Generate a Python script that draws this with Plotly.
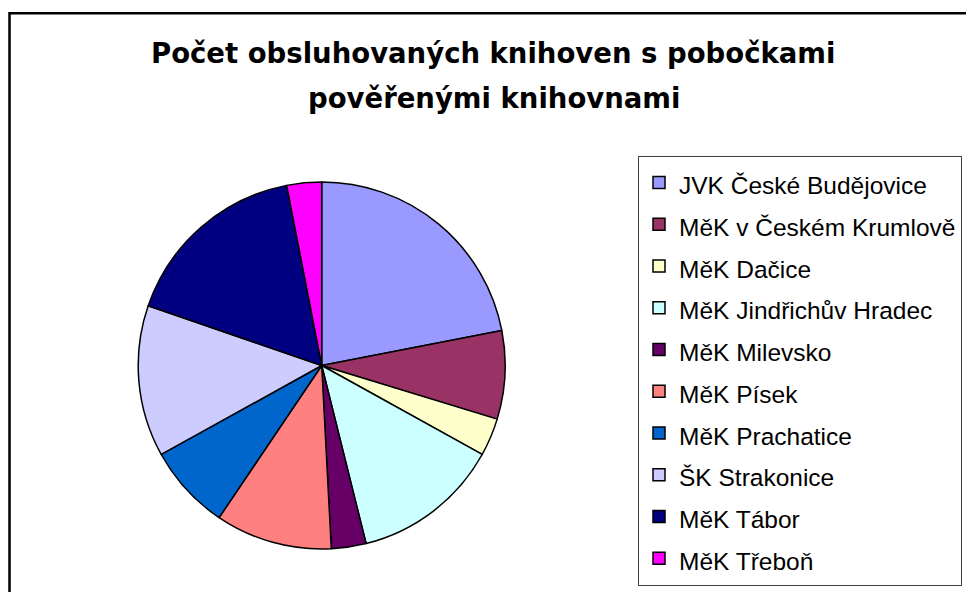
import plotly.graph_objects as go

# Data
labels = [
    "JVK České Budějovice",
    "MěK v Českém Krumlově",
    "MěK Dačice",
    "MěK Jindřichův Hradec",
    "MěK Milevsko",
    "MěK Písek",
    "MěK Prachatice",
    "ŠK Strakonice",
    "MěK Tábor",
    "MěK Třeboň",
]
values = [79, 28, 12, 47, 11, 37, 27, 48, 60, 11]
colors = ["#9999FF", "#993366", "#FFFFCC", "#CCFFFF", "#660066",
          "#FF8080", "#0066CC", "#CCCCFF", "#000080", "#FF00FF"]
title_lines = ["Počet obsluhovaných knihoven s pobočkami",
               "pověřenými knihovnami"]

W, H = 966, 592
legend_labels = ['<span style="font-size:24.5px">%s</span>' % l for l in labels]

fig = go.Figure(go.Pie(
    labels=legend_labels,
    values=values,
    sort=False,
    direction="clockwise",
    rotation=0,
    textinfo="none",
    hoverinfo="skip",
    marker=dict(colors=colors, line=dict(color="black", width=1.5)),
    domain=dict(x=[(321.7 - 183.5) / W, (321.7 + 183.5) / W],
                y=[(592 - 365.5 - 183.5) / H, (592 - 365.5 + 183.5) / H]),
))

fig.update_layout(
    width=W, height=H,
    margin=dict(l=0, r=0, t=0, b=0),
    paper_bgcolor="white",
    plot_bgcolor="white",
    showlegend=True,
    legend=dict(
        x=638 / W, xanchor="left",
        y=1 - 155.7 / H, yanchor="top",
        bordercolor="#404040", borderwidth=1,
        bgcolor="white",
        entrywidth=340, entrywidthmode="pixels",
        font=dict(family="Liberation Sans, Arial, sans-serif", size=29.8, color="black"),
    ),
    annotations=[
        dict(text="<b>%s</b>" % title_lines[0], x=493 / W, y=1 - 52.5 / H,
             xref="paper", yref="paper", xanchor="center", yanchor="middle",
             showarrow=False,
             font=dict(family="DejaVu Sans", size=27.5, color="black")),
        dict(text="<b>%s</b>" % title_lines[1], x=493.5 / W, y=1 - 97.5 / H,
             xref="paper", yref="paper", xanchor="center", yanchor="middle",
             showarrow=False,
             font=dict(family="DejaVu Sans", size=27.5, color="black")),
    ],
    shapes=[
        dict(type="rect", xref="paper", yref="paper",
             x0=9.5 / W, x1=1.02, y0=-0.02, y1=1 - 13.3 / H,
             line=dict(color="black", width=2.5), fillcolor="rgba(0,0,0,0)",
             layer="below"),
    ],
)

fig.write_html("out.html",
               config={"displayModeBar": False},
               post_script="document.body.style.margin='0';document.body.style.overflow='hidden';")
